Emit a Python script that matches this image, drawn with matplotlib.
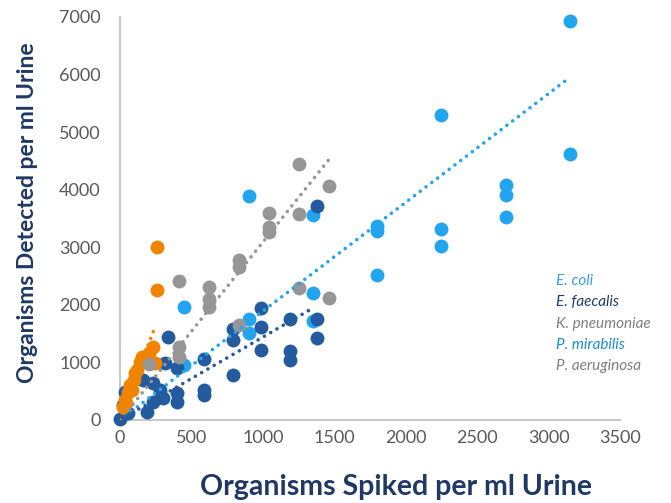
import matplotlib
matplotlib.use("Agg")
import matplotlib.pyplot as plt
import numpy as np

# ---- data ----
# light blue series
coli_x = [3150, 3150, 2700, 2700, 2700, 2250, 2250, 2250, 1800, 1800, 1800,
          1350, 1350, 1350, 900, 900, 900, 450, 450]
coli_y = [6930, 4620, 4080, 3910, 3530, 5300, 3320, 3020, 3370, 3280, 2520,
          3560, 2200, 1720, 3890, 1760, 1510, 1960, 955]

# dark blue series
faec_x = [1380, 1380, 1380, 1190, 1190, 1190, 990, 990, 990, 790, 790, 790,
          590, 590, 590, 400, 400, 400, 335, 315, 290, 280, 300, 230, 230,
          160, 190, 56, 35, 21, 0]
faec_y = [3717, 1755, 1424, 1755, 1199, 1042, 1945, 1615, 1216, 1580, 1390, 782,
          1060, 521, 434, 903, 470, 320, 1442, 990, 400, 521, 382, 643, 313,
          695, 140, 122, 486, 260, 10]

# grey series
kpn_x = [1460, 1460, 1250, 1250, 1250, 1040, 1040, 1040, 830, 830, 830,
         620, 620, 620, 410, 410, 410, 200]
kpn_y = [4065, 2119, 4447, 3578, 2293, 3596, 3350, 3265, 2780, 2658, 1650,
         2310, 2102, 1963, 2414, 1268, 1094, 972]

# orange series
org_x = [258, 258, 230, 203, 154, 244, 119, 105, 70, 82, 56, 35, 21, 45, 140, 95]
org_y = [3005, 2258, 1268, 1164, 1094, 990, 868, 816, 608, 520, 486, 347, 226, 290, 1000, 700]

# trend lines: (x start, x end, slope, intercept)
coli_trend = (0, 3150, 1.89, 0)
faec_trend = (0, 1354, 1.44, 0)
kpn_trend = (60, 1475, 3.10, -10)
org_trend = (0, 245, 6.6, 0)

legend_names = ["E. coli", "E. faecalis", "K. pneumoniae", "P. mirabilis", "P. aeruginosa"]
legend_colors = ["#3A9FE6", "#1F3D6E", "#7F7F7F", "#1A8CD6", "#7F7F7F"]

c_light = "#22A5EE"
c_dark = "#245A9E"
c_grey = "#969696"
c_orange = "#F08400"

plt.rcParams['font.family'] = ['Lato', 'DejaVu Sans']

fig = plt.figure(figsize=(6.71, 5.03), dpi=100)
ax = fig.add_axes([120/671, 1-420/503, 500/671, 403/503])

ms = 100
ax.scatter(coli_x, coli_y, s=ms, color=c_light, linewidths=0, zorder=2, clip_on=False)
ax.scatter(faec_x, faec_y, s=ms, color=c_dark, linewidths=0, zorder=3, clip_on=False)
ax.scatter(org_x, org_y, s=ms, color=c_orange, linewidths=0, zorder=4, clip_on=False)
ax.scatter(kpn_x, kpn_y, s=ms, color=c_grey, linewidths=0, zorder=5, clip_on=False)


def trend(t, color):
    xs = np.array([t[0], t[1]])
    ax.plot(xs, t[2]*xs + t[3], color=color, lw=2.6,
            linestyle=(0, (0.01, 2.0)), dash_capstyle='round', zorder=6)


trend(coli_trend, c_light)
trend(faec_trend, c_dark)
trend(kpn_trend, c_grey)
trend(org_trend, c_orange)

ax.set_xlim(0, 3500)
ax.set_ylim(0, 7000)
ax.set_xticks(np.arange(0, 3501, 500))
ax.set_yticks(np.arange(0, 7001, 1000))
ax.tick_params(length=0, labelsize=13, labelcolor="#595959")
ax.tick_params(axis='y', pad=14)
ax.tick_params(axis='x', pad=7)
for s in ['top', 'right']:
    ax.spines[s].set_visible(False)
for s in ['left', 'bottom']:
    ax.spines[s].set_color("#C8C8C8")
    ax.spines[s].set_linewidth(1.5)
ax.patch.set_alpha(0)
for sp in ax.spines.values():
    sp.set_zorder(1)

fig.text(396/671, 1-487/503, "Organisms Spiked per ml Urine", ha='center', va='center',
         fontsize=20.5, fontweight='bold', color="#1F3864")
fig.text(28/671, 1-213/503, "Organisms Detected per ml Urine", ha='center', va='center',
         rotation=90, fontsize=16.5, fontweight='bold', color="#1F3864")

for i, (name, col) in enumerate(zip(legend_names, legend_colors)):
    fig.text(556/671, 1-(281 + i*21.3)/503, name, ha='left', va='center',
             fontsize=11, style='italic', color=col)

fig.savefig("out.png", dpi=100)
